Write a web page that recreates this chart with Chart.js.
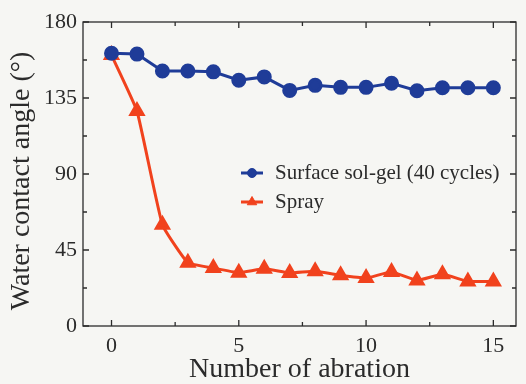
<!DOCTYPE html>
<html>
<head>
<meta charset="utf-8">
<script src="https://cdn.jsdelivr.net/npm/chart.js@4"></script>
<style>
  html, body { margin: 0; padding: 0; background: #f6f6f3; }
  #wrap { width: 526px; height: 384px; }
</style>
</head>
<body>
<div id="wrap"><canvas id="angleChart" width="526" height="384"></canvas></div>
<script>
// ---------- data ----------
const abrasionCount = [0, 1, 2, 3, 4, 5, 6, 7, 8, 9, 10, 11, 12, 13, 14, 15];
const solGelAngle = [161.5, 161, 151, 151, 150.5, 145.5, 147.5, 139.5, 142.5, 141.3, 141.3, 143.7, 139.3, 141.1, 141.1, 141.1];
const sprayAngle = [160.4, 127.3, 60, 37.5, 34.3, 31.6, 33.9, 31.4, 32.4, 30, 28.4, 32, 27, 30.6, 26.4, 26.4];

const xMajorTicks = [0, 5, 10, 15];
const xMinorTicks = [2.5, 7.5, 12.5];
const yMajorTicks = [0, 45, 90, 135, 180];
const yMinorTicks = [22.5, 67.5, 112.5, 157.5];

const seriesNames = ["Surface sol-gel (40 cycles)", "Spray"];
const xTitle = "Number of abration";
const yTitle = "Water contact angle (°)";

const BLUE = "#1f3c98";
const RED = "#f1421d";
const INK = "#2b2b2b";
const SERIF = "'Liberation Serif', 'Times New Roman', serif";

// ---------- plugins ----------
// box around the plot with inward ticks on all four sides
const frameTicks = {
  id: "frameTicks",
  afterDraw(chart) {
    const { ctx, chartArea: a, scales } = chart;
    const xs = scales.x, ys = scales.y;
    ctx.save();
    ctx.strokeStyle = INK;
    ctx.lineWidth = 1.3;
    ctx.strokeRect(a.left, a.top, a.right - a.left, a.bottom - a.top);
    ctx.beginPath();
    const tickX = (v, len) => {
      const px = xs.getPixelForValue(v);
      ctx.moveTo(px, a.bottom); ctx.lineTo(px, a.bottom - len);
      ctx.moveTo(px, a.top); ctx.lineTo(px, a.top + len);
    };
    const tickY = (v, len) => {
      const py = ys.getPixelForValue(v);
      ctx.moveTo(a.left, py); ctx.lineTo(a.left + len, py);
      ctx.moveTo(a.right, py); ctx.lineTo(a.right - len, py);
    };
    xMajorTicks.forEach(v => tickX(v, 6));
    xMinorTicks.forEach(v => tickX(v, 4));
    yMajorTicks.forEach(v => tickY(v, 6));
    yMinorTicks.forEach(v => tickY(v, 4));
    ctx.stroke();

    // y axis title, sits a little below the plot's middle
    ctx.translate(22, (a.top + a.bottom) / 2 + 7);
    ctx.rotate(-Math.PI / 2);
    ctx.fillStyle = INK;
    ctx.font = "28px " + SERIF;
    ctx.textAlign = "center";
    ctx.textBaseline = "middle";
    ctx.fillText(yTitle, 0, 0);
    ctx.restore();
  }
};

// legend sitting inside the plot, using each dataset's own style
const innerLegend = {
  id: "innerLegend",
  afterDatasetsDraw(chart) {
    const { ctx, chartArea: a } = chart;
    const x0 = a.left + 169;
    const y0 = a.top + 151;
    const rowGap = 29;
    ctx.save();
    chart.data.datasets.forEach((ds, i) => {
      const y = y0 + i * rowGap;
      ctx.strokeStyle = ds.borderColor;
      ctx.lineWidth = 3;
      ctx.beginPath();
      ctx.moveTo(x0 - 11, y);
      ctx.lineTo(x0 + 11, y);
      ctx.stroke();
      ctx.fillStyle = ds.pointBackgroundColor;
      ctx.strokeStyle = ds.pointBorderColor;
      ctx.lineWidth = 1;
      Chart.helpers.drawPoint(ctx, { pointStyle: ds.pointStyle, radius: ds.pointRadius - 1.5, borderWidth: 1 }, x0, y);
      ctx.fillStyle = INK;
      ctx.font = "21px " + SERIF;
      ctx.textBaseline = "middle";
      ctx.textAlign = "left";
      ctx.fillText(ds.label, x0 + 23, y);
    });
    ctx.restore();
  }
};

// ---------- chart ----------
const ctx = document.getElementById("angleChart").getContext("2d");
const chart = new Chart(ctx, {
  type: "line",
  data: {
    datasets: [
      {
        label: seriesNames[0],
        data: abrasionCount.map((x, i) => ({ x, y: solGelAngle[i] })),
        borderColor: BLUE,
        backgroundColor: BLUE,
        pointBackgroundColor: BLUE,
        pointBorderColor: BLUE,
        pointStyle: "circle",
        pointRadius: 6,
        borderWidth: 3,
        tension: 0
      },
      {
        label: seriesNames[1],
        data: abrasionCount.map((x, i) => ({ x, y: sprayAngle[i] })),
        borderColor: RED,
        backgroundColor: RED,
        pointBackgroundColor: RED,
        pointBorderColor: RED,
        pointStyle: "triangle",
        pointRadius: 7,
        borderWidth: 3,
        tension: 0.12
      }
    ]
  },
  options: {
    responsive: false,
    animation: false,
    layout: { padding: { top: 22, right: 3, left: 0, bottom: 0 } },
    plugins: {
      legend: { display: false },
      tooltip: { enabled: false }
    },
    scales: {
      x: {
        type: "linear",
        min: -1.12,
        max: 15.89,
        afterBuildTicks: s => { s.ticks = xMajorTicks.map(v => ({ value: v })); },
        afterFit: s => { s.height = 58; },
        grid: { display: false, drawTicks: false },
        border: { display: false },
        ticks: { color: INK, padding: 7, font: { family: SERIF, size: 22 } },
        title: {
          display: true,
          text: xTitle,
          color: INK,
          padding: 0,
          font: { family: SERIF, size: 28, lineHeight: 1 }
        }
      },
      y: {
        min: 0,
        max: 180,
        afterBuildTicks: s => { s.ticks = yMajorTicks.map(v => ({ value: v })); },
        afterFit: s => { s.width = 83; },
        grid: { display: false, drawTicks: false },
        border: { display: false },
        ticks: { color: INK, padding: 6, font: { family: SERIF, size: 22 } }
      }
    }
  },
  plugins: [frameTicks, innerLegend]
});
</script>
</body>
</html>
